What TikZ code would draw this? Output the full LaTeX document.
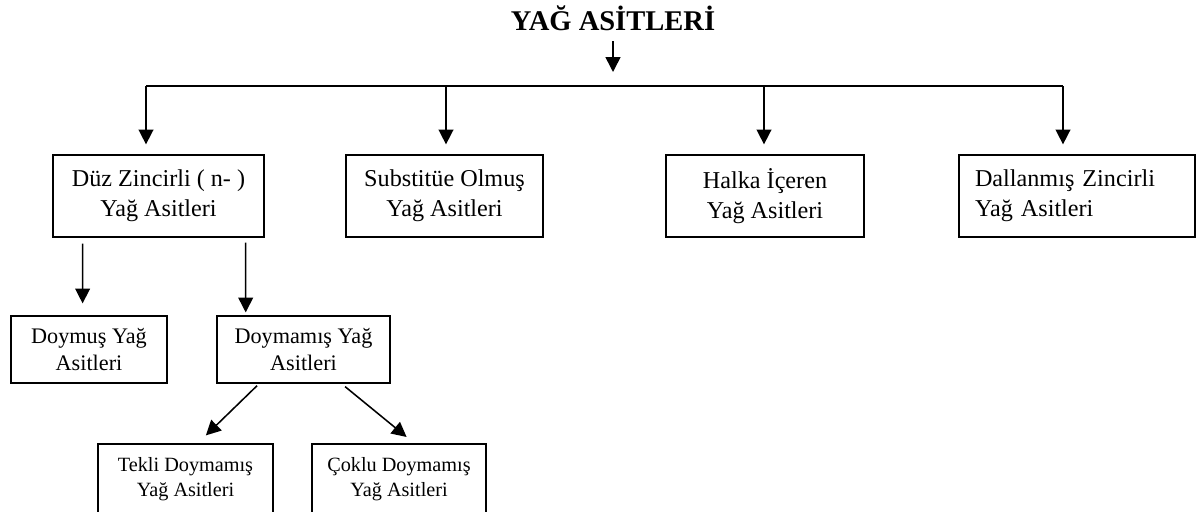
\documentclass[tikz,border=0pt]{standalone}
\usepackage{fontspec}
\setmainfont{Liberation Serif}
\usepackage{tikz}
\usetikzlibrary{arrows.meta,positioning,calc}
\tikzset{
  >={Triangle[length=10.5pt,width=10.5pt]},
  % kutular
  kutu/.style={draw=black,line width=0.9pt,inner sep=0pt,align=center},
  ustkutu/.style={kutu,minimum height=2.05cm,font=\fontsize{17.2}{21.3}\selectfont},
  ortakutu/.style={kutu,minimum height=1.675cm,font=\fontsize{15.8}{19.1}\selectfont},
  altkutu/.style={kutu,minimum height=1.75cm,font=\fontsize{14.4}{17.7}\selectfont},
  baslik/.style={font=\bfseries\fontsize{20.3}{24}\selectfont,inner sep=3.5pt},
  % oklar
  hat/.style={draw=black,line width=1.1pt},
  ok/.style={->,draw=black,line width=1.1pt},
}

\begin{document}
\begin{tikzpicture}
\useasboundingbox (0,0) rectangle (29.9,-12.775);
  \node[baslik,anchor=base] (yag) at (15.325,-0.75) {YAĞ ASİTLERİ};
  % birinci sıra
  \node[ustkutu,minimum width=5.275cm] (duz) at (3.9625,-4.9) {Düz Zincirli ( n- )\\Yağ Asitleri};
  \node[ustkutu,minimum width=4.925cm] (sub) at (11.1125,-4.9) {Substitüe Olmuş\\Yağ Asitleri};
  \node[ustkutu,minimum width=4.95cm] (halka) at (19.125,-4.9) {Halka İçeren\\Yağ Asitleri};
  \node[ustkutu,text width=5.1cm,inner xsep=0.4cm,align=left] (dal) at (26.925,-4.9) {Dallanmış Zincirli\\Yağ Asitleri};
  % ikinci sıra
  \node[ortakutu,minimum width=3.9cm] (doymus) at (2.225,-8.7375) {Doymuş Yağ\\Asitleri};
  \node[ortakutu,minimum width=4.325cm] (doymamis) at (7.5875,-8.7375) {Doymamış Yağ\\Asitleri};
  % üçüncü sıra
  \node[altkutu,minimum width=4.375cm] (tekli) at (4.6375,-11.975) {Tekli Doymamış\\Yağ Asitleri};
  \node[altkutu,minimum width=4.35cm] (coklu) at (9.975,-11.975) {Çoklu Doymamış\\Yağ Asitleri};
  % dağıtım hattı
  \coordinate (b1) at (3.65,-2.15);
  \coordinate (b2) at (11.15,-2.15);
  \coordinate (b3) at (19.1,-2.15);
  \coordinate (b4) at (26.575,-2.15);
  \draw[hat] (b1) -- (b4);
  \draw[ok,shorten <=0.15cm,shorten >=0.35cm] (yag.south) -- (yag.south |- b1);
  \foreach \b/\k in {b1/duz,b2/sub,b3/halka,b4/dal}
    \draw[ok,shorten >=0.25cm] (\b) -- (\b |- \k.north);
  % alt dallar
  \draw[ok] ([xshift=-1.895cm,yshift=-0.15cm]duz.south) -- ([xshift=-0.16cm,yshift=0.3cm]doymus.north);
  \draw[ok] ([xshift=2.18cm,yshift=-0.125cm]duz.south) -- ([xshift=-1.445cm,yshift=0.075cm]doymamis.north);
  \draw[ok] ([xshift=-1.16cm,yshift=-0.05cm]doymamis.south) -- ([xshift=0.51cm,yshift=0.2cm]tekli.north);
  \draw[ok] ([xshift=1.04cm,yshift=-0.075cm]doymamis.south) -- ([xshift=0.19cm,yshift=0.16cm]coklu.north);
\end{tikzpicture}
\end{document}
